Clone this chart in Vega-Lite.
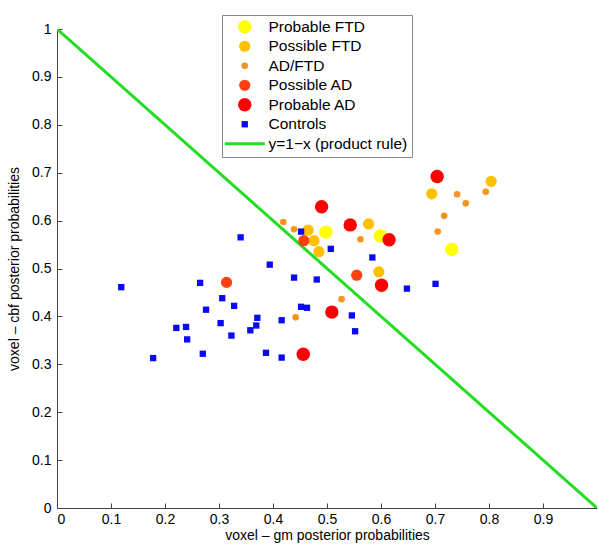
{
  "$schema": "https://vega.github.io/schema/vega-lite/v6.json",
  "width": 540,
  "height": 479,
  "autosize": {"type": "none"},
  "padding": {"left": 57, "top": 29, "right": 1, "bottom": 38},
  "background": "white",
  "config": {
    "view": {"stroke": null},
    "font": "Liberation Sans",
    "axis": {
      "grid": false,
      "domainColor": "#444444",
      "tickColor": "#444444",
      "labelColor": "#000000",
      "titleColor": "#000000",
      "labelFont": "Liberation Sans",
      "titleFont": "Liberation Sans",
      "labelFontSize": 14,
      "titleFontSize": 14,
      "titleFontWeight": "normal",
      "tickSize": -5,
      "domainWidth": 1
    }
  },
  "layer": [
    {
      "data": {"values": [
        {"x": 0, "y": 1, "g": "y=1−x (product rule)"},
        {"x": 1, "y": 0, "g": "y=1−x (product rule)"}
      ]},
      "mark": {"type": "line", "strokeWidth": 3, "clip": true},
      "encoding": {
        "x": {"field": "x", "type": "quantitative"},
        "y": {"field": "y", "type": "quantitative"},
        "color": {"field": "g", "type": "nominal"}
      }
    },
    {
      "data": {"values": [
        {"x": 0.498, "y": 0.576, "g": "Probable FTD"},
        {"x": 0.599, "y": 0.568, "g": "Probable FTD"},
        {"x": 0.731, "y": 0.540, "g": "Probable FTD"},
        {"x": 0.465, "y": 0.580, "g": "Possible FTD"},
        {"x": 0.476, "y": 0.558, "g": "Possible FTD"},
        {"x": 0.485, "y": 0.535, "g": "Possible FTD"},
        {"x": 0.577, "y": 0.593, "g": "Possible FTD"},
        {"x": 0.596, "y": 0.493, "g": "Possible FTD"},
        {"x": 0.804, "y": 0.682, "g": "Possible FTD"},
        {"x": 0.694, "y": 0.656, "g": "Possible FTD"},
        {"x": 0.419, "y": 0.597, "g": "AD/FTD"},
        {"x": 0.439, "y": 0.582, "g": "AD/FTD"},
        {"x": 0.562, "y": 0.561, "g": "AD/FTD"},
        {"x": 0.527, "y": 0.436, "g": "AD/FTD"},
        {"x": 0.442, "y": 0.398, "g": "AD/FTD"},
        {"x": 0.717, "y": 0.610, "g": "AD/FTD"},
        {"x": 0.705, "y": 0.577, "g": "AD/FTD"},
        {"x": 0.741, "y": 0.655, "g": "AD/FTD"},
        {"x": 0.757, "y": 0.636, "g": "AD/FTD"},
        {"x": 0.794, "y": 0.660, "g": "AD/FTD"},
        {"x": 0.457, "y": 0.558, "g": "Possible AD"},
        {"x": 0.555, "y": 0.486, "g": "Possible AD"},
        {"x": 0.314, "y": 0.471, "g": "Possible AD"},
        {"x": 0.490, "y": 0.629, "g": "Probable AD"},
        {"x": 0.543, "y": 0.591, "g": "Probable AD"},
        {"x": 0.615, "y": 0.560, "g": "Probable AD"},
        {"x": 0.601, "y": 0.465, "g": "Probable AD"},
        {"x": 0.509, "y": 0.409, "g": "Probable AD"},
        {"x": 0.456, "y": 0.321, "g": "Probable AD"},
        {"x": 0.704, "y": 0.692, "g": "Probable AD"},
        {"x": 0.119, "y": 0.461, "g": "Controls"},
        {"x": 0.340, "y": 0.565, "g": "Controls"},
        {"x": 0.394, "y": 0.508, "g": "Controls"},
        {"x": 0.265, "y": 0.470, "g": "Controls"},
        {"x": 0.306, "y": 0.438, "g": "Controls"},
        {"x": 0.328, "y": 0.422, "g": "Controls"},
        {"x": 0.276, "y": 0.414, "g": "Controls"},
        {"x": 0.303, "y": 0.386, "g": "Controls"},
        {"x": 0.371, "y": 0.397, "g": "Controls"},
        {"x": 0.369, "y": 0.381, "g": "Controls"},
        {"x": 0.358, "y": 0.371, "g": "Controls"},
        {"x": 0.416, "y": 0.392, "g": "Controls"},
        {"x": 0.221, "y": 0.376, "g": "Controls"},
        {"x": 0.239, "y": 0.378, "g": "Controls"},
        {"x": 0.241, "y": 0.352, "g": "Controls"},
        {"x": 0.323, "y": 0.360, "g": "Controls"},
        {"x": 0.178, "y": 0.313, "g": "Controls"},
        {"x": 0.270, "y": 0.322, "g": "Controls"},
        {"x": 0.387, "y": 0.324, "g": "Controls"},
        {"x": 0.416, "y": 0.314, "g": "Controls"},
        {"x": 0.452, "y": 0.577, "g": "Controls"},
        {"x": 0.507, "y": 0.541, "g": "Controls"},
        {"x": 0.584, "y": 0.523, "g": "Controls"},
        {"x": 0.439, "y": 0.481, "g": "Controls"},
        {"x": 0.481, "y": 0.477, "g": "Controls"},
        {"x": 0.648, "y": 0.458, "g": "Controls"},
        {"x": 0.701, "y": 0.468, "g": "Controls"},
        {"x": 0.452, "y": 0.420, "g": "Controls"},
        {"x": 0.463, "y": 0.418, "g": "Controls"},
        {"x": 0.546, "y": 0.402, "g": "Controls"},
        {"x": 0.552, "y": 0.369, "g": "Controls"}
      ]},
      "mark": {"type": "point", "filled": true, "opacity": 1, "strokeWidth": 0},
      "encoding": {
        "x": {"field": "x", "type": "quantitative"},
        "y": {"field": "y", "type": "quantitative"},
        "color": {"field": "g", "type": "nominal"},
        "shape": {
          "field": "g", "type": "nominal",
          "scale": {
            "domain": ["Probable FTD", "Possible FTD", "AD/FTD", "Possible AD", "Probable AD", "Controls", "y=1−x (product rule)"],
            "range": ["circle", "circle", "circle", "circle", "circle", "square", "stroke"]
          }
        },
        "size": {
          "field": "g", "type": "nominal",
          "scale": {
            "type": "ordinal",
            "domain": ["Probable FTD", "Possible FTD", "AD/FTD", "Possible AD", "Probable AD", "Controls", "y=1−x (product rule)"],
            "range": [180, 126, 44, 126, 180, 40, 1600]
          }
        }
      }
    }
  ],
  "resolve": {"scale": {"color": "shared"}},
  "encoding": {
    "x": {
      "field": "x", "type": "quantitative",
      "scale": {"domain": [0, 1], "nice": false, "zero": false},
      "axis": {
        "title": "voxel – gm posterior probabilities",
        "values": [0, 0.1, 0.2, 0.3, 0.4, 0.5, 0.6, 0.7, 0.8, 0.9],
        "format": "~g",
        "labelPadding": 9,
        "titlePadding": 2
      }
    },
    "y": {
      "field": "y", "type": "quantitative",
      "scale": {"domain": [0, 1], "nice": false, "zero": false},
      "axis": {
        "title": "voxel – cbf posterior probabilities",
        "values": [0, 0.1, 0.2, 0.3, 0.4, 0.5, 0.6, 0.7, 0.8, 0.9, 1],
        "format": "~g",
        "labelPadding": 11,
        "titlePadding": 10
      }
    },
    "color": {
      "field": "g", "type": "nominal",
      "scale": {
        "domain": ["Probable FTD", "Possible FTD", "AD/FTD", "Possible AD", "Probable AD", "Controls", "y=1−x (product rule)"],
        "range": ["#ffff00", "#ffc000", "#f7941d", "#ff4010", "#ff0000", "#0a0af0", "#22dd22"]
      },
      "legend": {
        "title": null,
        "orient": "none",
        "legendX": 165,
        "legendY": -14,
        "fillColor": "white",
        "strokeColor": "#888888",
        "padding": 4,
        "labelFontSize": 15.5,
        "labelFont": "Liberation Sans",
        "labelColor": "#000000",
        "symbolOffset": 11,
        "labelOffset": 16,
        "rowPadding": 2.5,
        "symbolOpacity": 1,
        "encode": {
          "symbols": {
            "update": {
              "stroke": {"signal": "scale('color', datum.value)"},
              "strokeWidth": {"signal": "datum.value === 'y=1−x (product rule)' ? 3 : 0"},
              "opacity": {"value": 1}
            }
          }
        }
      }
    }
  }
}
